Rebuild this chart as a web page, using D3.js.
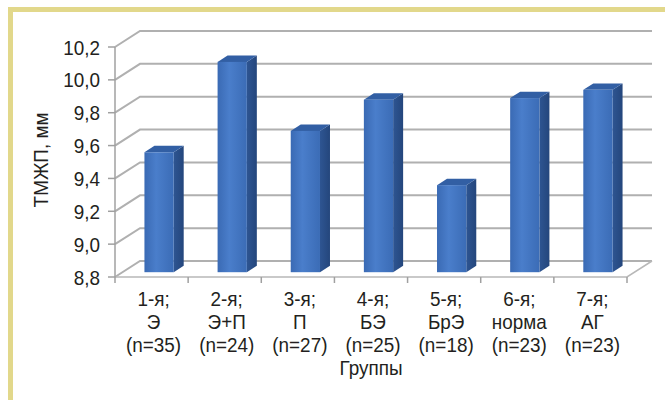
<!DOCTYPE html>
<html>
<head>
<meta charset="utf-8">
<script src="https://cdn.jsdelivr.net/npm/d3@7"></script>
<style>
  html, body { margin: 0; padding: 0; background: #fff; }
  svg { display: block; }
  text { font-family: "Liberation Sans", Arial, sans-serif; fill: #231f20; }
</style>
</head>
<body>
<svg id="chart" width="665" height="400"></svg>
<script>
// Groups (three text lines under each column)
const groupLine1 = ["1-я;", "2-я;", "3-я;", "4-я;", "5-я;", "6-я;", "7-я;"];
const groupLine2 = ["Э", "Э+П", "П", "БЭ", "БрЭ", "норма", "АГ"];
const groupSize  = ["(n=35)", "(n=24)", "(n=27)", "(n=25)", "(n=18)", "(n=23)", "(n=23)"];
// Mean value per group, mm
const values = [9.53, 10.08, 9.66, 9.85, 9.33, 9.86, 9.91];
// Value axis ticks
const yTicks = [8.8, 9.0, 9.2, 9.4, 9.6, 9.8, 10.0, 10.2];
const yTitle = "ТМЖП, мм";
const xTitle = "Группы";

const FS = 21;      // font size
const SX = 0.9;     // horizontal condensing of labels

const svg = d3.select("#chart");

// Condensed text label at (px, py) with optional rotation
function label(parent, px, py, lines, anchor, rot, lineH) {
  const g = parent.append("g")
    .attr("transform", `translate(${px},${py}) rotate(${rot || 0}) scale(${SX},1)`);
  const t = g.append("text").attr("text-anchor", anchor).attr("font-size", FS);
  lines.forEach((s, k) => {
    t.append("tspan").attr("x", 0).attr("y", k * (lineH || 0)).text(s);
  });
  return t;
}

// Frame: yellow rule on top and left
svg.append("rect").attr("x", 8).attr("y", 7).attr("width", 700).attr("height", 5).attr("fill", "#e2d88b");
svg.append("rect").attr("x", 8).attr("y", 7).attr("width", 5).attr("height", 400).attr("fill", "#e2d88b");

// Front plane of the 3D box
const x0 = 115, x1 = 627, yTop = 47, yBot = 277;
// Depth offset of the back wall
const DX = 25, DY = -16;

const x = d3.scaleBand()
  .domain(groupLine1.map((d, i) => i))
  .range([x0, x1])
  .paddingInner(0.6)
  .paddingOuter(0.3);
const step = x.step();

const y = d3.scaleLinear().domain([8.8, 10.2]).range([yBot, yTop]);
const fmt = v => d3.format(".1f")(v).replace(".", ",");

const grid = svg.append("g");
// Gridlines on side wall (diagonal) and back wall (horizontal)
yTicks.forEach(t => {
  const yy = y(t);
  grid.append("path")
    .attr("d", `M${x0},${yy}L${x0 + DX},${yy + DY}L${x1 + DX},${yy + DY}`)
    .attr("fill", "none")
    .attr("stroke", "#b0b0b0")
    .attr("stroke-width", 2);
});
// Floor front and right edges
grid.append("path")
  .attr("d", `M${x0},${yBot}L${x1},${yBot}L${x1 + DX},${yBot + DY}`)
  .attr("fill", "none")
  .attr("stroke", "#b8b8b8")
  .attr("stroke-width", 1.5);

// Column gradients
const defs = svg.append("defs");
const gFront = defs.append("linearGradient").attr("id", "front").attr("x1", 0).attr("x2", 1).attr("y1", 0).attr("y2", 0);
gFront.append("stop").attr("offset", "0%").attr("stop-color", "#3a6ab4");
gFront.append("stop").attr("offset", "40%").attr("stop-color", "#4a7ecb");
gFront.append("stop").attr("offset", "100%").attr("stop-color", "#3b6cb6");
const gSide = defs.append("linearGradient").attr("id", "side").attr("x1", 0).attr("x2", 1).attr("y1", 0).attr("y2", 0);
gSide.append("stop").attr("offset", "0%").attr("stop-color", "#2e5592");
gSide.append("stop").attr("offset", "100%").attr("stop-color", "#24467c");

// Depth of columns inside the box
const dF = 0.3, dB = 0.7;
const bars = svg.append("g");
values.forEach((v, i) => {
  const bx0 = x(i), bx1 = x(i) + x.bandwidth();
  const yv = y(v);
  const fx = DX * dF, fy = DY * dF, bxo = DX * dB, byo = DY * dB;
  // right side
  bars.append("path")
    .attr("d", `M${bx1 + fx},${yv + fy}L${bx1 + bxo},${yv + byo}L${bx1 + bxo},${yBot + byo}L${bx1 + fx},${yBot + fy}Z`)
    .attr("fill", "url(#side)");
  // top
  bars.append("path")
    .attr("d", `M${bx0 + fx},${yv + fy}L${bx0 + bxo},${yv + byo}L${bx1 + bxo},${yv + byo}L${bx1 + fx},${yv + fy}Z`)
    .attr("fill", "#325fa4");
  // front
  bars.append("rect")
    .attr("x", bx0 + fx).attr("y", yv + fy)
    .attr("width", x.bandwidth()).attr("height", yBot - yv)
    .attr("fill", "url(#front)");
});

// Value axis
const axis = svg.append("g");
axis.append("line").attr("x1", x0).attr("x2", x0).attr("y1", yTop).attr("y2", yBot)
  .attr("stroke", "#a0a0a0").attr("stroke-width", 1.5);
yTicks.forEach(t => {
  axis.append("line").attr("x1", x0 - 7).attr("x2", x0).attr("y1", y(t)).attr("y2", y(t))
    .attr("stroke", "#a0a0a0").attr("stroke-width", 1.5);
  label(axis, 100, y(t) + 7.5, [fmt(t)], "end");
});

// Category ticks
d3.range(groupLine1.length + 1).forEach(i => {
  const xx = x0 + i * step;
  axis.append("line").attr("x1", xx).attr("x2", xx).attr("y1", yBot).attr("y2", yBot + 6)
    .attr("stroke", "#a0a0a0").attr("stroke-width", 1.5);
});

// Category labels
groupLine1.forEach((d, i) => {
  const cx = x(i) + x.bandwidth() / 2 + 2;
  label(axis, cx, 306, [d, groupLine2[i], groupSize[i]], "middle", 0, 23);
});

// Axis titles
label(svg, (x0 + x1) / 2, 375, [xTitle], "middle");
label(svg, 48, 160, [yTitle], "middle", -90);
</script>
</body>
</html>
